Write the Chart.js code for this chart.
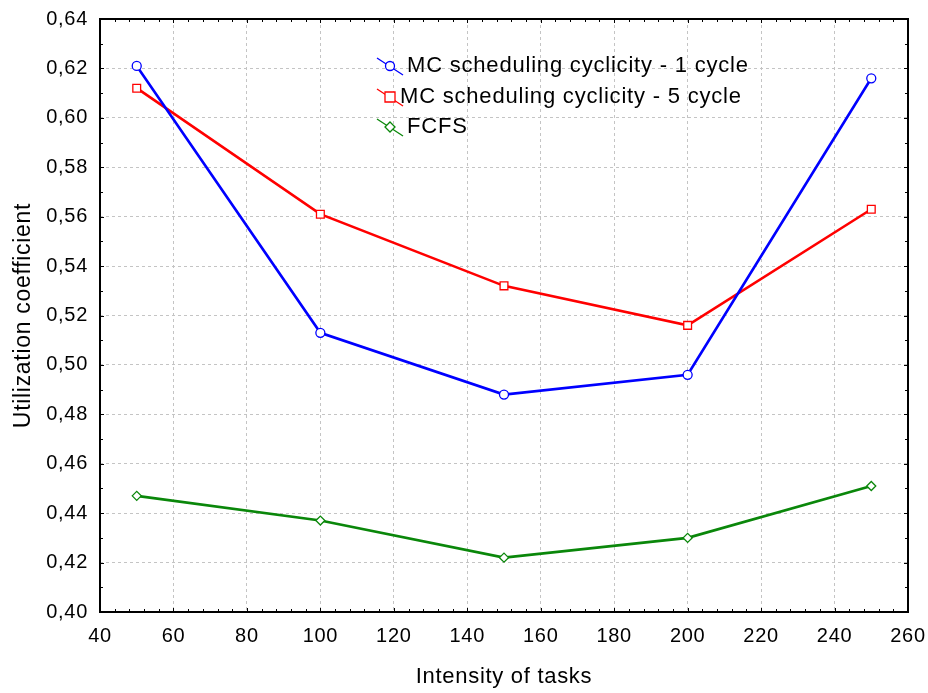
<!DOCTYPE html>
<html>
<head>
<meta charset="utf-8">
<script src="https://cdn.jsdelivr.net/npm/chart.js@4/dist/chart.umd.min.js"></script>
<style>
html,body{margin:0;padding:0;background:#fff;}
canvas{display:block;}
</style>
</head>
<body>
<canvas id="c" width="928" height="693"></canvas>
<script>
const intensity = [50, 100, 150, 200, 250];
const mc1Cycle = [0.621, 0.513, 0.488, 0.496, 0.616];
const mc5Cycle = [0.612, 0.561, 0.532, 0.516, 0.563];
const fcfs = [0.447, 0.437, 0.422, 0.430, 0.451];
const xTicks = [40, 60, 80, 100, 120, 140, 160, 180, 200, 220, 240, 260];
const yTicks = [0.40, 0.42, 0.44, 0.46, 0.48, 0.50, 0.52, 0.54, 0.56, 0.58, 0.60, 0.62, 0.64];
const seriesNames = ['MC scheduling cyclicity - 1 cycle', 'MC scheduling cyclicity - 5 cycle', 'FCFS'];

const FONT = '"Liberation Sans", Arial, sans-serif';

function pts(vals){ return intensity.map((x,i)=>({x:x, y:vals[i]})); }

const spacingPlugin = {
  id:'spacing',
  beforeDraw(chart){ chart.ctx.letterSpacing = '0.7px'; }
};

const framePlugin = {
  id:'frame',
  afterDraw(chart){
    const ctx = chart.ctx, a = chart.chartArea;
    const xs = chart.scales.x, ys = chart.scales.y;
    ctx.save();
    ctx.strokeStyle = '#000';
    ctx.lineWidth = 1;
    for(let v=40; v<=260; v+=4){
      const px = Math.round(xs.getPixelForValue(v))+0.5;
      const major = (v % 20) === 0;
      const L = major ? 4 : 3;
      ctx.beginPath();
      ctx.moveTo(px, a.bottom); ctx.lineTo(px, a.bottom - L);
      ctx.moveTo(px, a.top); ctx.lineTo(px, a.top + L);
      ctx.stroke();
    }
    for(let k=0; k<=24; k++){
      const v = 0.40 + k*0.01;
      const py = Math.round(ys.getPixelForValue(v))+0.5;
      const L = (k%2===0) ? 4 : 3;
      ctx.beginPath();
      ctx.moveTo(a.left, py); ctx.lineTo(a.left + L, py);
      ctx.moveTo(a.right, py); ctx.lineTo(a.right - L, py);
      ctx.stroke();
    }
    ctx.lineWidth = 2;
    ctx.strokeRect(a.left, a.top, a.right - a.left, a.bottom - a.top);

    // legend
    const rows = [{y:66, tx:407}, {y:97, tx:400}, {y:127, tx:407}];
    chart.data.datasets.forEach((ds, i)=>{
      const r = rows[i];
      const mx = 390, my = r.y;
      ctx.lineWidth = 1.3;
      ctx.strokeStyle = ds.borderColor;
      ctx.beginPath();
      ctx.moveTo(mx-13, my-8); ctx.lineTo(mx+13, my+9);
      ctx.stroke();
      ctx.fillStyle = '#fff';
      ctx.beginPath();
      if(i===0){ ctx.arc(mx, my, 4.5, 0, Math.PI*2); }
      else if(i===1){ ctx.rect(mx-5, my-5, 10, 10); }
      else { ctx.moveTo(mx, my-5); ctx.lineTo(mx+5, my); ctx.lineTo(mx, my+5); ctx.lineTo(mx-5, my); ctx.closePath(); }
      ctx.fill(); ctx.stroke();
      ctx.fillStyle = '#000';
      ctx.font = '22px ' + FONT;
      ctx.letterSpacing = '0.8px';
      ctx.textBaseline = 'middle';
      ctx.textAlign = 'left';
      ctx.fillText(ds.label, r.tx, my);
    });
    ctx.restore();
  }
};

new Chart(document.getElementById('c'), {
  type:'line',
  data:{
    datasets:[
      {label:seriesNames[0], data:pts(mc1Cycle), borderColor:'#0000ff', backgroundColor:'#fff',
       pointStyle:'circle', pointRadius:4.5, pointBorderWidth:1.3, pointBackgroundColor:'#fff', borderWidth:2.6},
      {label:seriesNames[1], data:pts(mc5Cycle), borderColor:'#ff0000', backgroundColor:'#fff',
       pointStyle:'rect', pointRadius:5.5, pointBorderWidth:1.3, pointBackgroundColor:'#fff', borderWidth:2.6},
      {label:seriesNames[2], data:pts(fcfs), borderColor:'#0a870a', backgroundColor:'#fff',
       pointStyle:'rectRot', pointRadius:4.5, pointBorderWidth:1.3, pointBackgroundColor:'#fff', borderWidth:2.6}
    ]
  },
  options:{
    responsive:false,
    animation:false,
    devicePixelRatio:1,
    layout:{padding:{left:0, right:20, top:19, bottom:0}},
    plugins:{legend:{display:false}, tooltip:{enabled:false}},
    scales:{
      x:{
        type:'linear', min:40, max:260,
        afterBuildTicks(s){ s.ticks = xTicks.map(v=>({value:v})); },
        afterFit(s){ s.height = 81; s.paddingLeft = 0; s.paddingRight = 0; },
        ticks:{color:'#000', padding:12, font:{family:FONT, size:20}, maxRotation:0, autoSkip:false},
        grid:{color:'#c4c4c4', lineWidth:1, drawTicks:false},
        border:{display:false, dash:[3,3]},
        title:{display:true, text:'Intensity of tasks', color:'#000', font:{family:FONT, size:22}, padding:{top:0, bottom:3}}
      },
      y:{
        type:'linear', min:0.40, max:0.64,
        afterBuildTicks(s){ s.ticks = yTicks.map(v=>({value:v})); },
        afterFit(s){ s.width = 100; s.paddingTop = 0; s.paddingBottom = 0; },
        ticks:{color:'#000', padding:12, font:{family:FONT, size:20}, autoSkip:false,
          callback:(v)=>Number(v).toFixed(2).replace('.', ',')},
        grid:{color:'#c4c4c4', lineWidth:1, drawTicks:false},
        border:{display:false, dash:[3,3]},
        title:{display:true, text:'Utilization coefficient', color:'#000', font:{family:FONT, size:23}, padding:{top:10, bottom:0}}
      }
    }
  },
  plugins:[spacingPlugin, framePlugin]
});
</script>
</body>
</html>
